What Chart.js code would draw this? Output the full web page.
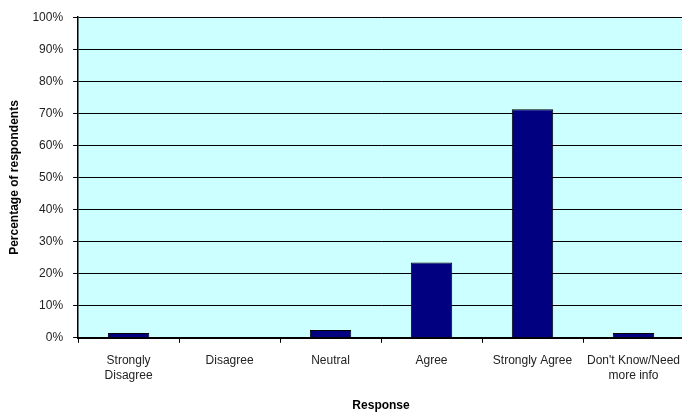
<!DOCTYPE html>
<html>
<head>
<meta charset="utf-8">
<script src="https://cdn.jsdelivr.net/npm/chart.js@4/dist/chart.umd.min.js"></script>
<style>
  html, body { margin: 0; padding: 0; background: #fff; overflow: hidden; }
  #wrap { width: 691px; height: 413px; }
</style>
</head>
<body>
<div id="wrap"><canvas id="surveyChart"></canvas></div>
<script>
// survey responses, % of respondents
const responses = [['Strongly', 'Disagree'], 'Disagree', 'Neutral', 'Agree', 'Strongly Agree', ['Don\'t Know/Need', 'more info']];
const percentages = [1.5, 0, 2.4, 23.5, 71.3, 1.5];

const FONT = "'Liberation Sans Narrow', 'Arial Narrow', 'Liberation Sans', Arial, sans-serif";

// paints the cyan plot background behind the bars
const plotBg = {
    id: 'plotBg',
    beforeDraw(chart) {
        const a = chart.chartArea;
        const ctx = chart.ctx;
        ctx.save();
        ctx.fillStyle = '#CCFFFF';
        ctx.fillRect(a.left, a.top, a.right - a.left, a.bottom - a.top);
        ctx.restore();
    }
};

const ctx = document.getElementById('surveyChart').getContext('2d');
new Chart(ctx, {
    type: 'bar',
    data: {
        labels: responses,
        datasets: [{
            data: percentages,
            backgroundColor: '#000080',
            borderColor: '#000000',
            borderWidth: 1,
            categoryPercentage: 1,
            barPercentage: 0.41
        }]
    },
    options: {
        responsive: true,
        maintainAspectRatio: false,
        animation: false,
        layout: { padding: { top: 13, left: 7, right: 0, bottom: 0 } },
        plugins: { legend: { display: false }, tooltip: { enabled: false } },
        scales: {
            y: {
                min: 0,
                max: 100,
                ticks: {
                    stepSize: 10,
                    callback: v => v + '%',
                    color: '#222',
                    font: { family: FONT, size: 12 },
                    padding: 10
                },
                grid: { color: '#000', lineWidth: 1, tickLength: 5, tickColor: '#000' },
                border: { color: '#000', width: 1.5 },
                title: {
                    display: true,
                    text: 'Percentage of respondents',
                    color: '#000',
                    font: { family: "'Liberation Sans', Arial, sans-serif", size: 12, weight: 'bold' },
                    padding: { top: 0, bottom: 1 }
                }
            },
            x: {
                ticks: {
                    color: '#222',
                    font: { family: FONT, size: 12 },
                    maxRotation: 0,
                    autoSkip: false,
                    padding: 11
                },
                grid: { offset: true, drawOnChartArea: false, tickLength: 5, color: '#000' },
                border: { color: '#000', width: 2 },
                title: {
                    display: true,
                    text: 'Response',
                    color: '#000',
                    font: { family: "'Liberation Sans', Arial, sans-serif", size: 12, weight: 'bold' },
                    padding: { top: 5, bottom: 0 }
                }
            }
        }
    },
    plugins: [plotBg]
});
</script>
</body>
</html>
